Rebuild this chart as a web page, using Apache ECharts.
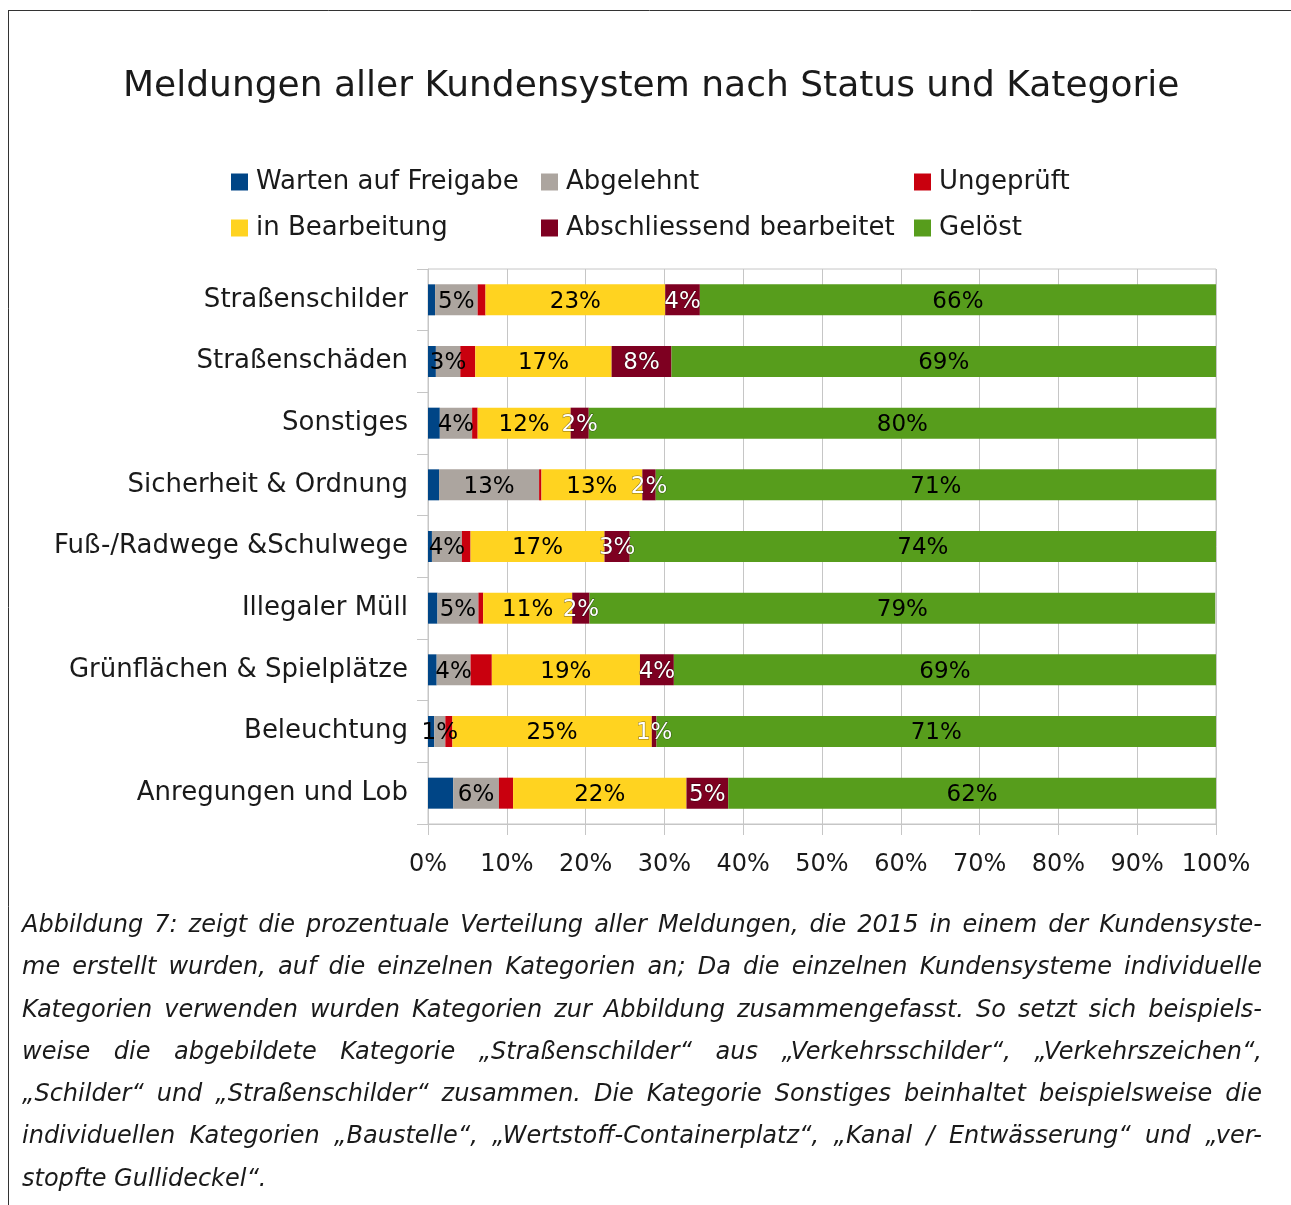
<!DOCTYPE html>
<html>
<head>
<meta charset="utf-8">
<script src="https://cdn.jsdelivr.net/npm/echarts@6/dist/echarts.min.js"></script>
<style>
  html, body { margin: 0; padding: 0; background: #fff; }
  #wrap { position: relative; width: 1291px; height: 1205px; overflow: hidden; }
  #chart { position: absolute; left: 0; top: 0; width: 1291px; height: 1205px; }
  #caption {
    position: absolute; left: 22px; top: 903px; width: 1240px;
    font-family: "DejaVu Sans", sans-serif; font-style: italic;
    font-size: 24px; line-height: 42.3px; color: #1a1a1a;
  }
  #caption div { text-align: justify; text-align-last: justify; white-space: nowrap; }
  #caption div.last { text-align-last: left; }
</style>
</head>
<body>
<div id="wrap">
  <div id="chart"></div>
  <div id="caption">
    <div>Abbildung 7: zeigt die prozentuale Verteilung aller Meldungen, die 2015 in einem der Kundensyste-</div>
    <div>me erstellt wurden, auf die einzelnen Kategorien an; Da die einzelnen Kundensysteme individuelle</div>
    <div>Kategorien verwenden wurden Kategorien zur Abbildung zusammengefasst. So setzt sich beispiels-</div>
    <div>weise die abgebildete Kategorie „Straßenschilder“ aus „Verkehrsschilder“, „Verkehrszeichen“,</div>
    <div>„Schilder“ und „Straßenschilder“ zusammen. Die Kategorie Sonstiges beinhaltet beispielsweise die</div>
    <div>individuellen Kategorien „Baustelle“, „Wertstoff-Containerplatz“, „Kanal / Entwässerung“ und „ver-</div>
    <div class="last">stopfte Gullideckel“.</div>
  </div>
</div>
<script>
var categories = ['Straßenschilder', 'Straßenschäden', 'Sonstiges', 'Sicherheit & Ordnung',
    'Fuß-/Radwege &Schulwege', 'Illegaler Müll', 'Grünflächen & Spielplätze', 'Beleuchtung',
    'Anregungen und Lob'];

// Anteile in Prozent, je Kategorie (oben nach unten)
var warten       = [0.9, 1.0, 1.5, 1.4, 0.5, 1.2, 1.1, 0.8, 3.2];
var abgelehnt    = [5.4, 3.1, 4.1, 12.7, 3.8, 5.2, 4.3, 1.4, 5.8];
var ungeprueft   = [1.0, 1.9, 0.7, 0.3, 1.1, 0.6, 2.7, 0.9, 1.8];
var bearbeitung  = [22.8, 17.3, 11.8, 12.8, 17.0, 11.3, 18.8, 25.3, 22.0];
var abschliessend = [4.4, 7.6, 2.3, 1.7, 3.2, 2.2, 4.3, 0.6, 5.3];
var geloest      = [65.6, 69.2, 79.6, 71.1, 74.4, 79.4, 68.8, 71.0, 61.9];

var seriesNames = ['Warten auf Freigabe', 'Abgelehnt', 'Ungeprüft', 'in Bearbeitung',
    'Abschliessend bearbeitet', 'Gelöst'];
var colors = ['#004586', '#aca59f', '#c9000e', '#ffd320', '#7e0021', '#579d1c'];
var xTicks = [0, 10, 20, 30, 40, 50, 60, 70, 80, 90, 100];

var FONT = 'DejaVu Sans';
var TEXT = '#1a1a1a';
var gridColor = '#c6c6c6';

function makeSeries(name, data, color, showLabel, labelColor) {
    return {
        name: name,
        type: 'bar',
        stack: 'total',
        barWidth: 31,
        data: data,
        itemStyle: { color: color },
        label: {
            show: showLabel,
            position: 'inside',
            offset: [0, 2],
            color: labelColor || '#000',
            fontFamily: FONT,
            fontSize: 23,
            textBorderWidth: labelColor ? 1 : 0,
            textBorderColor: 'rgba(0,0,0,0.5)',
            formatter: function (p) { return Math.round(p.value) + '%'; }
        },
        emphasis: { disabled: true }
    };
}

var legendBase = {
    orient: 'vertical',
    top: 169,
    padding: 0,
    itemGap: 20,
    itemWidth: 17,
    itemHeight: 17,
    icon: 'rect',
    selectedMode: false,
    textStyle: { fontFamily: FONT, fontSize: 26, color: TEXT, padding: [0, 0, 0, 3] }
};

var chart = echarts.init(document.getElementById('chart'), null, { renderer: 'canvas' });
chart.setOption({
    animation: false,
    title: {
        text: 'Meldungen aller Kundensystem nach Status und Kategorie',
        left: 123,
        top: 69,
        padding: 0,
        textStyle: { fontFamily: FONT, fontWeight: 'normal', fontSize: 36, color: TEXT }
    },
    legend: [
        Object.assign({}, legendBase, { left: 231, data: [seriesNames[0], seriesNames[3]] }),
        Object.assign({}, legendBase, { left: 541, data: [seriesNames[1], seriesNames[4]] }),
        Object.assign({}, legendBase, { left: 914, data: [seriesNames[2], seriesNames[5]] })
    ],
    grid: {
        left: 428, right: 75, top: 269, bottom: 381,
        show: true, borderColor: gridColor, borderWidth: 1, backgroundColor: 'transparent'
    },
    xAxis: {
        type: 'value',
        min: xTicks[0],
        max: xTicks[xTicks.length - 1],
        interval: 10,
        axisLine: { show: true, lineStyle: { color: gridColor } },
        axisTick: { show: true, length: 11, lineStyle: { color: gridColor } },
        splitLine: { show: true, lineStyle: { color: gridColor } },
        axisLabel: {
            margin: 29, fontFamily: FONT, fontSize: 24, color: TEXT,
            formatter: '{value}%'
        }
    },
    yAxis: {
        type: 'category',
        inverse: true,
        data: categories,
        axisLine: { show: true, lineStyle: { color: gridColor } },
        axisTick: { show: true, length: 11, lineStyle: { color: gridColor } },
        axisLabel: { margin: 20, fontFamily: FONT, fontSize: 26, color: TEXT, padding: [10, 0, 0, 0] }
    },
    graphic: [
        { type: 'line', shape: { x1: 8, y1: 10.5, x2: 1291, y2: 10.5 }, style: { stroke: '#333', lineWidth: 1 } },
        { type: 'line', shape: { x1: 8.5, y1: 10, x2: 8.5, y2: 1205 }, style: { stroke: '#333', lineWidth: 1 } }
    ],
    series: [
        makeSeries(seriesNames[0], warten, colors[0], false),
        makeSeries(seriesNames[1], abgelehnt, colors[1], true),
        makeSeries(seriesNames[2], ungeprueft, colors[2], false),
        makeSeries(seriesNames[3], bearbeitung, colors[3], true),
        makeSeries(seriesNames[4], abschliessend, colors[4], true, '#fff'),
        makeSeries(seriesNames[5], geloest, colors[5], true)
    ]
});
</script>
</body>
</html>
